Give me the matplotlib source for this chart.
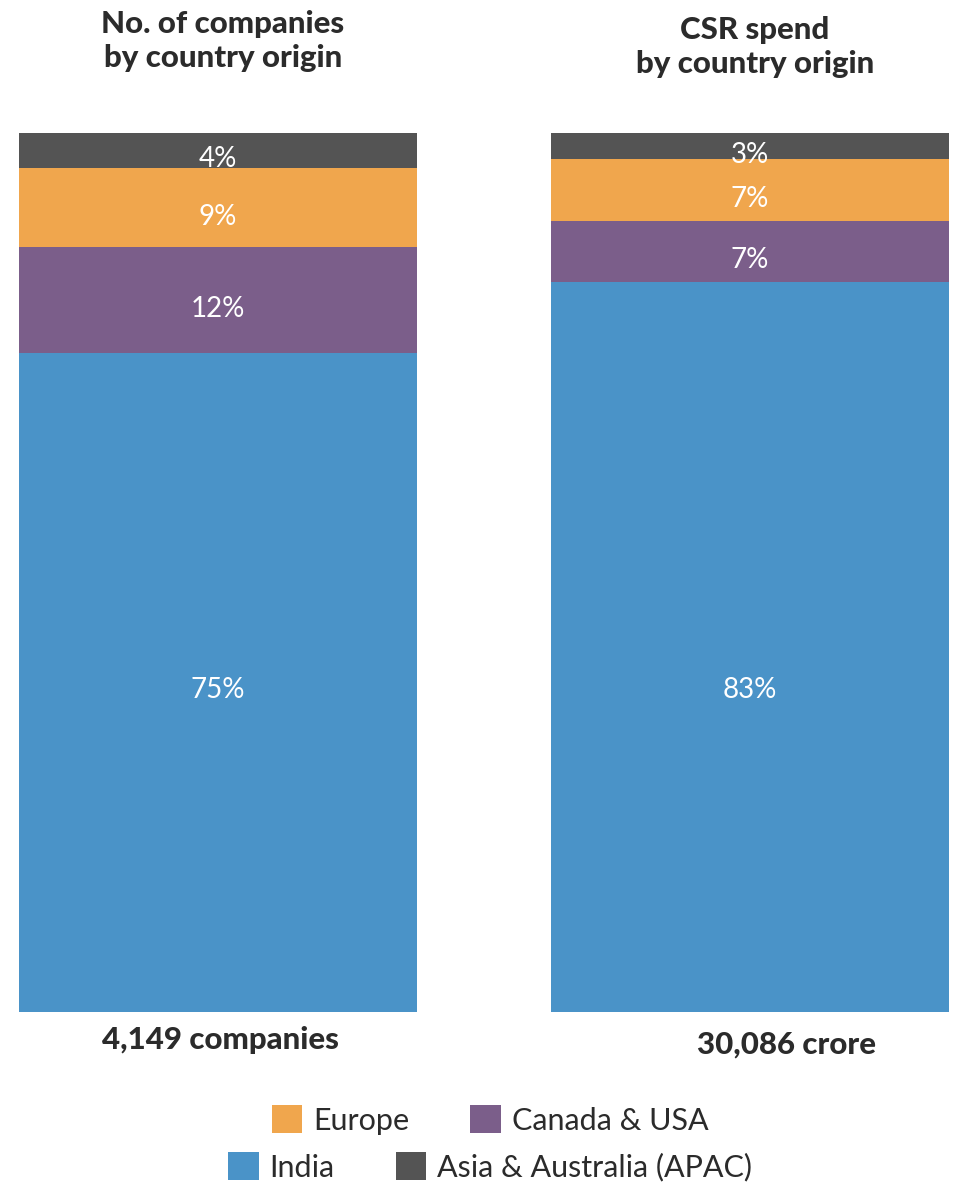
import matplotlib.pyplot as plt
from matplotlib.patches import Patch

# share of each region, bottom segment first
regions = ["India", "Canada & USA", "Europe", "Asia & Australia (APAC)"]
companies_pct = [75, 12, 9, 4]
spend_pct = [83, 7, 7, 3]
titles = ["No. of companies\nby country origin", "CSR spend\nby country origin"]
totals = ["4,149 companies", "30,086 crore"]

colors = {
    "India": "#4A93C8",
    "Canada & USA": "#7B5E8A",
    "Europe": "#F0A64D",
    "Asia & Australia (APAC)": "#545454",
}

plt.rcParams['font.family'] = ['Lato', 'DejaVu Sans']
dark = "#2b2b2b"

fig = plt.figure(figsize=(9.55, 11.82), dpi=100)
ax = fig.add_axes([19 / 955, 170 / 1182, 930 / 955, 879 / 1182])

width = 0.748
for i, shares in enumerate([companies_pct, spend_pct]):
    bottom = 0
    for name, val in zip(regions, shares):
        ax.bar(i, val, width=width, bottom=bottom, color=colors[name], linewidth=0)
        if name == "India":
            ty = 36.6
        else:
            ty = bottom + val / 2 - 1.0
        ax.text(i, ty, f"{val}%", color="white", fontsize=20, ha="center", va="center")
        bottom += val

ax.set_xlim(-width / 2, 1 + width / 2)
ax.set_ylim(0, 100)
ax.axis("off")

# headings above and totals below each bar
head_kw = dict(ha="center", va="center", fontsize=22.5, fontweight="black",
               color=dark, linespacing=1.3)
fig.text(223 / 955, 1 - 41 / 1182, titles[0], **head_kw)
fig.text(755 / 955, 1 - 47 / 1182, titles[1], **head_kw)
fig.text(220 / 955, 1 - 1040 / 1182, totals[0], **head_kw)
fig.text(786 / 955, 1 - 1045 / 1182, totals[1], **head_kw)

def handles(names):
    return [Patch(facecolor=colors[n], edgecolor="none", label=n) for n in names]

leg_kw = dict(ncol=2, frameon=False, fontsize=22, handlelength=1.0, handleheight=1.0,
              handletextpad=0.35, columnspacing=2.0, labelcolor=dark)
fig.legend(handles=handles(["Europe", "Canada & USA"]), loc="center",
           bbox_to_anchor=(490 / 955, 1 - 1120 / 1182), **leg_kw)
fig.legend(handles=handles(["India", "Asia & Australia (APAC)"]), loc="center",
           bbox_to_anchor=(490 / 955, 1 - 1167 / 1182), **leg_kw)

fig.savefig("out.png", dpi=100)
